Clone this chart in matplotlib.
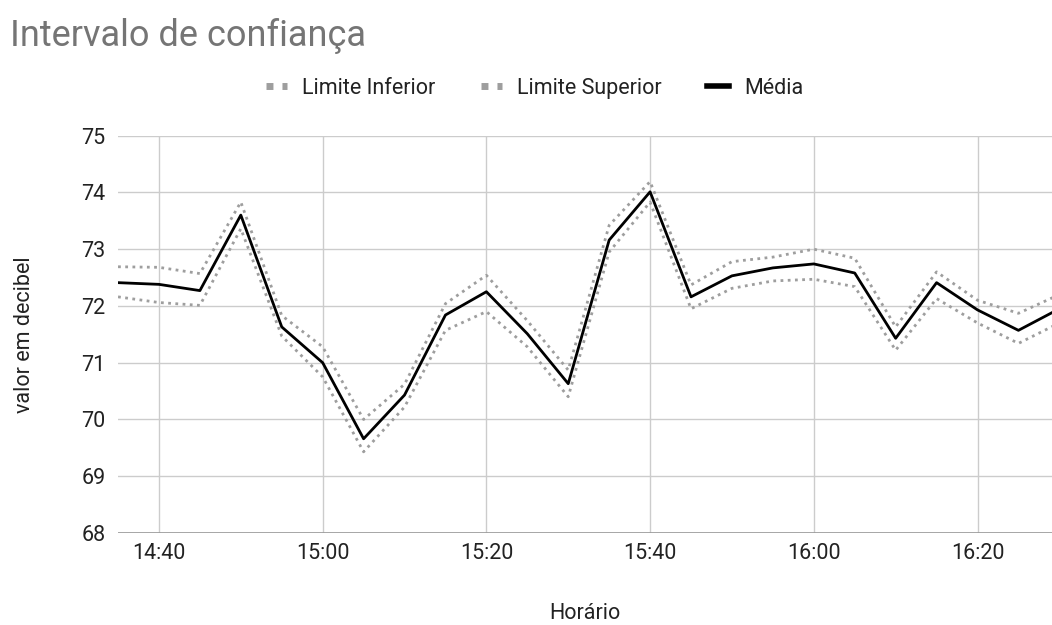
import matplotlib
matplotlib.use("Agg")
import matplotlib.pyplot as plt
from matplotlib.lines import Line2D

# ---- data ----
times = ["14:35", "14:40", "14:45", "14:50", "14:55", "15:00", "15:05", "15:10",
         "15:15", "15:20", "15:25", "15:30", "15:35", "15:40", "15:45", "15:50",
         "15:55", "16:00", "16:05", "16:10", "16:15", "16:20", "16:25", "16:30"]
media = [72.41, 72.38, 72.27, 73.60, 71.63, 71.00, 69.66, 70.43,
         71.84, 72.25, 71.51, 70.63, 73.16, 74.01, 72.16, 72.53,
         72.67, 72.74, 72.58, 71.43, 72.41, 71.93, 71.57, 71.95]
limite_superior = [72.69, 72.68, 72.57, 73.83, 71.83, 71.28, 70.00, 70.62,
                   72.04, 72.54, 71.74, 70.87, 73.42, 74.19, 72.37, 72.78,
                   72.86, 73.00, 72.84, 71.63, 72.60, 72.10, 71.87, 72.20]
limite_inferior = [72.16, 72.06, 72.01, 73.36, 71.47, 70.75, 69.43, 70.22,
                   71.57, 71.90, 71.28, 70.40, 72.95, 73.83, 71.95, 72.31,
                   72.44, 72.47, 72.34, 71.22, 72.13, 71.70, 71.34, 71.70]
x_ticks = ["14:40", "15:00", "15:20", "15:40", "16:00", "16:20"]
y_ticks = [68, 69, 70, 71, 72, 73, 74, 75]


def to_min(s):
    h, m = s.split(":")
    return int(h) * 60 + int(m)


x = [to_min(t) for t in times]

plt.rcParams['font.family'] = ['Roboto', 'DejaVu Sans']

fig = plt.figure(figsize=(10.52, 6.25), dpi=100)
ax = fig.add_axes([0.1122, 0.1472, 1.0 - 0.1122, 0.783 - 0.1472])

dot_color = "#9e9e9e"
ax.plot(x, limite_inferior, color=dot_color, lw=2.0, linestyle=(0, (1, 1.6)),
        dash_capstyle='butt', label="Limite Inferior", zorder=3)
ax.plot(x, limite_superior, color=dot_color, lw=2.0, linestyle=(0, (1, 1.6)),
        dash_capstyle='butt', label="Limite Superior", zorder=3)
ax.plot(x, media, color="black", lw=2.0, label="Média", zorder=4)

ax.set_xlim(to_min("14:35"), to_min("14:35") + 114.1)
ax.set_ylim(68, 75)
ax.set_yticks(y_ticks)
ax.set_yticklabels([str(v) for v in y_ticks])
ax.set_xticks([to_min(t) for t in x_ticks])
ax.set_xticklabels(x_ticks)

ax.grid(True, color="#cccccc", lw=1.0)
ax.set_axisbelow(True)
for s in ax.spines.values():
    s.set_visible(False)
ax.axhline(68, color="#999999", lw=1.2, zorder=2)
ax.tick_params(axis='both', length=0, labelsize=15.5, colors="#222222")
ax.tick_params(axis='x', pad=7)
ax.tick_params(axis='y', pad=9)

ax.set_xlabel("Horário", fontsize=15.5, color="#222222", labelpad=28)
ax.set_ylabel("valor em decibel", fontsize=15.5, color="#222222", labelpad=33)

fig.text(0.0095, 0.942, "Intervalo de confiança", fontsize=26, color="#757575",
         ha='left', va='center')

handles = [
    Line2D([], [], color=dot_color, lw=5, linestyle=(0, (1, 1.3))),
    Line2D([], [], color=dot_color, lw=5, linestyle=(0, (1, 1.3))),
    Line2D([], [], color="black", lw=4),
]
fig.legend(handles, ["Limite Inferior", "Limite Superior", "Média"],
           loc='center', bbox_to_anchor=(0.508, 0.859), ncol=3, frameon=False,
           fontsize=15.5, handlelength=1.0, columnspacing=2.1, handletextpad=0.7,
           labelcolor="#222222")

fig.savefig("out.png", dpi=100)
